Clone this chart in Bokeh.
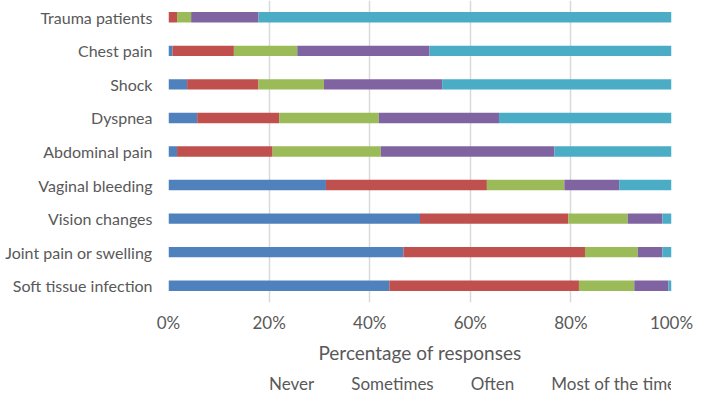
from bokeh.plotting import figure
from bokeh.layouts import column
from bokeh.models import ColumnDataSource, Range1d, FixedTicker, PrintfTickFormatter, Legend, LegendItem
from bokeh.embed import file_html
from bokeh.resources import INLINE

categories = ["Trauma patients", "Chest pain", "Shock", "Dyspnea", "Abdominal pain",
              "Vaginal bleeding", "Vision changes", "Joint pain or swelling", "Soft tissue infection"]
never = [0.0, 0.8, 3.7, 5.7, 1.7, 31.3, 50.0, 46.7, 43.9]
sometimes = [1.7, 12.2, 14.2, 16.3, 19.0, 32.0, 29.5, 36.1, 37.7]
often = [2.8, 12.6, 13.0, 19.8, 21.5, 15.4, 11.8, 10.5, 11.0]
most = [13.4, 26.3, 23.5, 23.9, 34.5, 10.9, 6.9, 4.9, 6.8]
every = [82.1, 48.1, 45.6, 34.3, 23.3, 10.4, 1.8, 1.8, 0.6]
series = ["Never", "Sometimes", "Often", "Most of the time", "Every time"]
x_ticks = [0, 20, 40, 60, 80, 100]

colors = ["#4F81BD", "#C0504D", "#9BBB59", "#8064A2", "#4BACC6"]
keys = ["never", "sometimes", "often", "most", "every"]
n = len(categories)
ypos = [n - 1 - i for i in range(n)]

source = ColumnDataSource(dict(y=ypos, never=never, sometimes=sometimes, often=often,
                               most=most, every=every))

FONT = "Lato"
TXT = "#595959"

p = figure(frame_width=503, frame_height=302, output_backend="svg", toolbar_location=None,
           x_range=Range1d(0, 100), y_range=Range1d(-0.5, n - 0.5),
           min_border_left=168, min_border_right=22, min_border_top=0, min_border_bottom=0)
p.outline_line_color = None
p.background_fill_color = "white"

p.hbar_stack(keys, y="y", height=0.31, color=colors, source=source, line_width=0)

p.xaxis.ticker = FixedTicker(ticks=x_ticks)
p.xaxis.formatter = PrintfTickFormatter(format="%d%%")
p.xaxis.axis_line_color = None
p.xaxis.major_tick_line_color = None
p.xaxis.minor_tick_line_color = None
p.xaxis.major_label_text_font = FONT
p.xaxis.major_label_text_font_size = "17px"
p.xaxis.major_label_text_color = TXT
p.xaxis.major_label_standoff = 3
p.xaxis.axis_label = "Percentage of responses"
p.xaxis.axis_label_text_font = FONT
p.xaxis.axis_label_text_font_size = "19px"
p.xaxis.axis_label_text_font_style = "normal"
p.xaxis.axis_label_text_color = TXT
p.xaxis.axis_label_standoff = 5

p.yaxis.ticker = FixedTicker(ticks=ypos)
p.yaxis.major_label_overrides = {y: c for y, c in zip(ypos, categories)}
p.yaxis.axis_line_color = None
p.yaxis.major_tick_line_color = None
p.yaxis.minor_tick_line_color = None
p.yaxis.major_label_text_font = FONT
p.yaxis.major_label_text_font_size = "16px"
p.yaxis.major_label_text_color = TXT
p.yaxis.major_label_standoff = 10

p.ygrid.grid_line_color = None
p.xgrid.grid_line_color = "#D9D9D9"
p.xgrid.grid_line_width = 1.5

# separate strip for the legend, below the chart
lf = figure(width=693, height=30, output_backend="svg", toolbar_location=None,
            x_range=Range1d(0, 1), y_range=Range1d(0, 1),
            x_axis_location=None, y_axis_location=None,
            min_border=0, min_border_left=0, min_border_right=0,
            min_border_top=0, min_border_bottom=0)
lf.outline_line_color = None
lf.grid.visible = False
swatches = [lf.hbar(y=[], right=[], height=0.5, color=c, line_width=0) for c in colors]

legend = Legend(items=[LegendItem(label=s, renderers=[r]) for s, r in zip(series, swatches)],
                orientation="horizontal", location=(86, 2))
legend.label_text_font = FONT
legend.label_text_font_size = "17px"
legend.label_text_color = TXT
legend.glyph_width = 9
legend.glyph_height = 9
legend.label_standoff = 6
legend.spacing = 22
legend.label_height = 20
legend.border_line_color = None
legend.background_fill_alpha = 0
legend.padding = 0
legend.margin = 0
lf.add_layout(legend, "center")

layout = column(p, lf, spacing=0)
open("out.html", "w").write(file_html(layout, INLINE))
